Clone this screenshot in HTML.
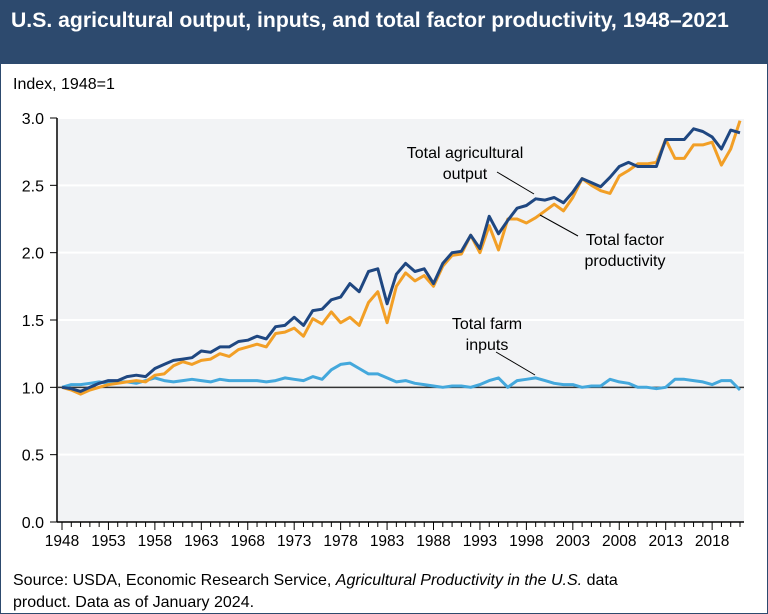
<!DOCTYPE html>
<html><head><meta charset="utf-8"><style>
body{margin:0;width:768px;height:614px;overflow:hidden;font-family:"Liberation Sans",sans-serif;background:#fff}
#wrap{position:absolute;left:0;top:0;width:766px;height:612px;border:1px solid #2d4a6e;}
#title{position:absolute;left:0;top:0;width:766px;height:63px;background:#2d4a6e;color:#fff;font-weight:bold;font-size:21.2px;line-height:40px;padding-left:10px;box-sizing:border-box}
.t{position:absolute;font-size:16px;color:#000}
</style></head><body>
<div id="wrap">
<div id="title">U.S. agricultural output, inputs, and total factor productivity, 1948–2021</div>
<div class="t" style="left:12px;top:75px">Index, 1948=1</div>
<div class="t" style="left:12px;top:569px;line-height:22px">Source: USDA, Economic Research Service, <i>Agricultural Productivity in the U.S.</i> data<br>product. Data as of January 2024.</div>
</div>
<svg id="chart" width="768" height="614" style="position:absolute;left:0;top:0"></svg>
<script>
const years=[];for(let y=1948;y<=2021;y++)years.push(y);
const output=[1.00,0.99,0.97,1.00,1.03,1.05,1.05,1.08,1.09,1.08,1.14,1.17,1.20,1.21,1.22,1.27,1.26,1.30,1.30,1.34,1.35,1.38,1.36,1.45,1.46,1.52,1.46,1.57,1.58,1.65,1.67,1.77,1.71,1.86,1.88,1.62,1.84,1.92,1.86,1.88,1.77,1.92,2.00,2.01,2.13,2.03,2.27,2.14,2.24,2.33,2.35,2.40,2.39,2.41,2.37,2.45,2.55,2.52,2.49,2.56,2.64,2.67,2.64,2.64,2.64,2.84,2.84,2.84,2.92,2.90,2.86,2.77,2.91,2.89];
const tfp=[1.00,0.98,0.95,0.98,1.00,1.02,1.03,1.04,1.05,1.04,1.09,1.10,1.16,1.19,1.17,1.20,1.21,1.25,1.23,1.28,1.30,1.32,1.30,1.40,1.41,1.44,1.38,1.51,1.47,1.56,1.48,1.52,1.46,1.63,1.71,1.48,1.75,1.85,1.79,1.83,1.75,1.90,1.98,1.99,2.13,2.00,2.20,2.02,2.25,2.25,2.22,2.26,2.31,2.36,2.31,2.41,2.55,2.50,2.46,2.44,2.57,2.61,2.66,2.66,2.67,2.84,2.70,2.70,2.80,2.80,2.82,2.65,2.77,2.98];
const inputs=[1.00,1.02,1.02,1.03,1.04,1.03,1.04,1.04,1.03,1.05,1.07,1.05,1.04,1.05,1.06,1.05,1.04,1.06,1.05,1.05,1.05,1.05,1.04,1.05,1.07,1.06,1.05,1.08,1.06,1.13,1.17,1.18,1.14,1.10,1.10,1.07,1.04,1.05,1.03,1.02,1.01,1.00,1.01,1.01,1.00,1.02,1.05,1.07,1.00,1.05,1.06,1.07,1.05,1.03,1.02,1.02,1.00,1.01,1.01,1.06,1.04,1.03,1.00,1.00,0.99,1.00,1.06,1.06,1.05,1.04,1.02,1.05,1.05,0.98];
const yTicks=[0,0.5,1.0,1.5,2.0,2.5,3.0];
const xLabels=[1948,1953,1958,1963,1968,1973,1978,1983,1988,1993,1998,2003,2008,2013,2018];
const X=y=>62+(y-1948)*(678/73);
const Y=v=>522-v*(404/3);
const svg=document.getElementById('chart');const NS='http://www.w3.org/2000/svg';
function mk(t,a,p){const e=document.createElementNS(NS,t);for(const k in a)e.setAttribute(k,a[k]);(p||svg).appendChild(e);return e;}
const bg=mk('rect',{x:58,y:118,width:686,height:404,fill:'#f2f3f5'});


yTicks.forEach(v=>{
 if(v>0&&v!=1){const g=mk('line',{x1:58,x2:744,y1:Y(v),y2:Y(v),stroke:'#fff','stroke-width':2});
 
 }
 const tk=mk('line',{x1:50,x2:57,y1:Y(v),y2:Y(v),stroke:'#000','stroke-width':1});
 
 
 const t=mk('text',{x:44,y:Y(v)+6,'text-anchor':'end','font-size':16,'font-family':'Liberation Sans'});
 t.textContent=v.toFixed(1);
 
 
});
const ya=mk('line',{x1:57,x2:57,y1:118,y2:522,stroke:'#000','stroke-width':1.5});


const xa=mk('line',{x1:57,x2:744,y1:522,y2:522,stroke:'#000','stroke-width':1.5});


const base=mk('line',{x1:57,x2:744,y1:Y(1),y2:Y(1),stroke:'#333','stroke-width':1.5});


years.forEach(y=>{const major=xLabels.includes(y);
 const tk=mk('line',{x1:X(y),x2:X(y),y1:522,y2:major?530:527,stroke:'#000','stroke-width':1});
 
 });
xLabels.forEach(y=>{const t=mk('text',{x:X(y),y:546,'text-anchor':'middle','font-size':15.5,'font-family':'Liberation Sans'});
 t.textContent=y;
 
 });
function line(arr,col,name){const d=arr.map((v,i)=>(i?'L':'M')+X(years[i]).toFixed(1)+','+Y(v).toFixed(1)).join('');
 const p=mk('path',{d:d,fill:'none',stroke:col,'stroke-width':3,'stroke-linejoin':'round'});
 
 }
line(inputs,'#44a8dc','series-total-farm-inputs');
line(tfp,'#f29f26','series-total-factor-productivity');
line(output,'#1f4781','series-total-agricultural-output');
function label(lines,x,y,name){lines.forEach((s,i)=>{const t=mk('text',{x:x,y:y+i*21,'text-anchor':'middle','font-size':16,'font-family':'Liberation Sans'});t.textContent=s;
 
 });}
function lead(x1,y1,x2,y2){const l=mk('line',{x1,y1,x2,y2,stroke:'#000','stroke-width':1});
 
 }
label(['Total agricultural','output'],465,158,'label-output');lead(497,172,534,194);
label(['Total factor','productivity'],625,245,'label-tfp');lead(540,215,578,236);
label(['Total farm','inputs'],487,329,'label-inputs');lead(496,352,535,375);
</script>
</body></html>
